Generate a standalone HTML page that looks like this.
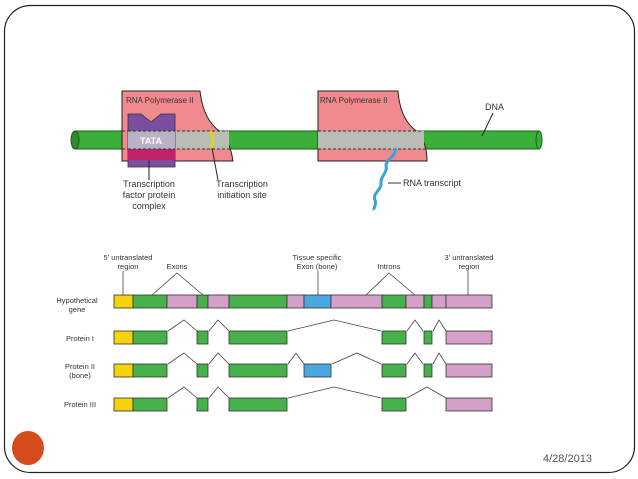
<!DOCTYPE html>
<html><head><meta charset="utf-8"><style>
html,body{margin:0;padding:0;background:#fff;}
svg{display:block;font-family:"Liberation Sans",sans-serif;}
</style></head><body>
<svg width="638" height="479" viewBox="0 0 638 479" xmlns="http://www.w3.org/2000/svg">
<rect x="4.5" y="5.5" width="630" height="467" rx="26" fill="#fff" stroke="#222" stroke-width="1.2"/>
<ellipse cx="28" cy="448" rx="16" ry="17" fill="#d64a1c"/>
<text x="543" y="462" font-size="11" fill="#555">4/28/2013</text>

<!-- DNA tube -->
<rect x="75" y="131" width="464" height="18" fill="#3cae3a" stroke="#1b5e1b" stroke-width="1"/>
<ellipse cx="75" cy="140" rx="4" ry="9" fill="#2c8c2c" stroke="#1b5e1b"/>
<ellipse cx="539" cy="140" rx="3" ry="9" fill="#3cae3a" stroke="#1b5e1b"/>

<!-- Polymerase 1 -->
<path d="M122 91 L200 91 Q203 118 218 130 Q230 140 233 161 L122 161 Z" fill="#f08a8f" stroke="#222" stroke-width="1"/>
<rect x="128" y="131" width="101" height="18" fill="#b8beb5"/>
<line x1="122" y1="131" x2="228" y2="131" stroke="#333" stroke-dasharray="3,2"/>
<line x1="122" y1="149" x2="232" y2="149" stroke="#333" stroke-dasharray="3,2"/>
<path d="M128 114 L141 114 L151 122 L161 114 L175 114 L175 167 L128 167 Z" fill="#7a4ea0" stroke="#333" stroke-width="0.8"/>
<rect x="128" y="131" width="47" height="18" fill="#b9b2c4"/>
<rect x="128" y="149" width="47" height="11" fill="#c2226a"/>
<line x1="128" y1="131" x2="175" y2="131" stroke="#333" stroke-dasharray="3,2"/>
<line x1="128" y1="149" x2="175" y2="149" stroke="#333" stroke-dasharray="3,2"/>
<text x="151" y="144" font-size="9" font-weight="bold" fill="#fff" text-anchor="middle">TATA</text>
<path d="M210 131 Q215 140 211 148" stroke="#e8d400" stroke-width="3" fill="none"/>
<text x="126" y="103" font-size="8" fill="#333">RNA Polymerase II</text>

<!-- Polymerase 2 -->
<path d="M318 91 L398 91 Q400 118 415 130 Q427 140 427 161 L318 161 Z" fill="#f08a8f" stroke="#222" stroke-width="1"/>
<rect x="318" y="131" width="106" height="18" fill="#b8beb5"/>
<line x1="318" y1="131" x2="422" y2="131" stroke="#333" stroke-dasharray="3,2"/>
<line x1="318" y1="149" x2="426" y2="149" stroke="#333" stroke-dasharray="3,2"/>
<text x="320" y="103" font-size="8" fill="#333">RNA Polymerase II</text>

<!-- RNA transcript -->
<path d="M395 148 C398 155 385 160 386 166 C388 172 380 177 381 183 C382 190 372 193 375 200 C377 205 373 208 374 210" stroke="#36a4d6" stroke-width="3" fill="none"/>
<line x1="388" y1="183" x2="401" y2="183" stroke="#333"/>
<text x="403" y="186" font-size="9" fill="#333">RNA transcript</text>

<!-- DNA label -->
<text x="485" y="110" font-size="9" fill="#333">DNA</text>
<line x1="493" y1="113" x2="482" y2="136" stroke="#222"/>

<!-- labels top -->
<line x1="149" y1="160" x2="149" y2="180" stroke="#222"/>
<text font-size="9" fill="#333" text-anchor="middle"><tspan x="149" y="187">Transcription</tspan><tspan x="149" y="198">factor protein</tspan><tspan x="149" y="209">complex</tspan></text>
<line x1="212" y1="148" x2="218" y2="180" stroke="#222"/>
<text font-size="9" fill="#333" text-anchor="middle"><tspan x="242" y="187">Transcription</tspan><tspan x="242" y="198">initiation site</tspan></text>

<!-- bottom labels -->
<g font-size="7.5" fill="#333" text-anchor="middle">
<text><tspan x="128" y="260">5' untranslated</tspan><tspan x="128" y="269">region</tspan></text>
<text x="177" y="269">Exons</text>
<text><tspan x="317" y="260">Tissue specific</tspan><tspan x="317" y="269">Exon (bone)</tspan></text>
<text x="389" y="269">Introns</text>
<text><tspan x="469" y="260">3' untranslated</tspan><tspan x="469" y="269">region</tspan></text>
<text><tspan x="77" y="303">Hypothetical</tspan><tspan x="77" y="312">gene</tspan></text>
<text x="80" y="341">Protein I</text>
<text><tspan x="80" y="369">Protein II</tspan><tspan x="80" y="378">(bone)</tspan></text>
<text x="80" y="407">Protein III</text>
</g>
<g stroke="#444" fill="none" stroke-width="0.8">
<line x1="123" y1="271" x2="123" y2="295"/>
<polyline points="152,295 177,273 203,295"/>
<line x1="318" y1="271" x2="318" y2="295"/>
<polyline points="366,295 389,273 415,295"/>
<line x1="468" y1="271" x2="468" y2="295"/>
</g>

<!-- gene row -->
<g stroke="#333" stroke-width="0.8">
<rect x="114" y="295" width="19" height="13" fill="#f4d20c"/>
<rect x="133" y="295" width="34" height="13" fill="#46b04a"/>
<rect x="167" y="295" width="30" height="13" fill="#d4a0c8"/>
<rect x="197" y="295" width="11" height="13" fill="#46b04a"/>
<rect x="208" y="295" width="21" height="13" fill="#d4a0c8"/>
<rect x="229" y="295" width="58" height="13" fill="#46b04a"/>
<rect x="287" y="295" width="17" height="13" fill="#d4a0c8"/>
<rect x="304" y="295" width="27" height="13" fill="#4aa8e0"/>
<rect x="331" y="295" width="51" height="13" fill="#d4a0c8"/>
<rect x="382" y="295" width="24" height="13" fill="#46b04a"/>
<rect x="406" y="295" width="18" height="13" fill="#d4a0c8"/>
<rect x="424" y="295" width="8" height="13" fill="#46b04a"/>
<rect x="432" y="295" width="14" height="13" fill="#d4a0c8"/>
<rect x="446" y="295" width="46" height="13" fill="#d4a0c8"/>
</g>

<!-- protein rows -->
<g id="common" stroke="#333" stroke-width="0.8">
</g>
<g stroke="#333" stroke-width="0.8">
<!-- Protein I y=331 -->
<rect x="114" y="331" width="19" height="13" fill="#f4d20c"/>
<rect x="133" y="331" width="34" height="13" fill="#46b04a"/>
<rect x="197" y="331" width="11" height="13" fill="#46b04a"/>
<rect x="229" y="331" width="58" height="13" fill="#46b04a"/>
<rect x="382" y="331" width="24" height="13" fill="#46b04a"/>
<rect x="424" y="331" width="8" height="13" fill="#46b04a"/>
<rect x="446" y="331" width="46" height="13" fill="#d4a0c8"/>
<!-- Protein II y=364 -->
<rect x="114" y="364" width="19" height="13" fill="#f4d20c"/>
<rect x="133" y="364" width="34" height="13" fill="#46b04a"/>
<rect x="197" y="364" width="11" height="13" fill="#46b04a"/>
<rect x="229" y="364" width="58" height="13" fill="#46b04a"/>
<rect x="304" y="364" width="27" height="13" fill="#4aa8e0"/>
<rect x="382" y="364" width="24" height="13" fill="#46b04a"/>
<rect x="424" y="364" width="8" height="13" fill="#46b04a"/>
<rect x="446" y="364" width="46" height="13" fill="#d4a0c8"/>
<!-- Protein III y=398 -->
<rect x="114" y="398" width="19" height="13" fill="#f4d20c"/>
<rect x="133" y="398" width="34" height="13" fill="#46b04a"/>
<rect x="197" y="398" width="11" height="13" fill="#46b04a"/>
<rect x="229" y="398" width="58" height="13" fill="#46b04a"/>
<rect x="382" y="398" width="24" height="13" fill="#46b04a"/>
<rect x="446" y="398" width="46" height="13" fill="#d4a0c8"/>
</g>
<g stroke="#444" fill="none" stroke-width="0.8">
<polyline points="168,331 184,320 197,331"/>
<polyline points="209,331 218,320 229,331"/>
<polyline points="288,331 334,320 381,331"/>
<polyline points="407,331 415,320 423,331"/>
<polyline points="433,331 439,320 446,331"/>

<polyline points="168,364 184,353 197,364"/>
<polyline points="209,364 218,353 229,364"/>
<polyline points="288,364 296,353 304,364"/>
<polyline points="332,364 357,353 381,364"/>
<polyline points="407,364 415,353 423,364"/>
<polyline points="433,364 439,353 446,364"/>

<polyline points="168,398 184,387 197,398"/>
<polyline points="209,398 218,387 229,398"/>
<polyline points="288,398 334,387 381,398"/>
<polyline points="407,398 427,387 446,398"/>
</g>
</svg>
</body></html>
